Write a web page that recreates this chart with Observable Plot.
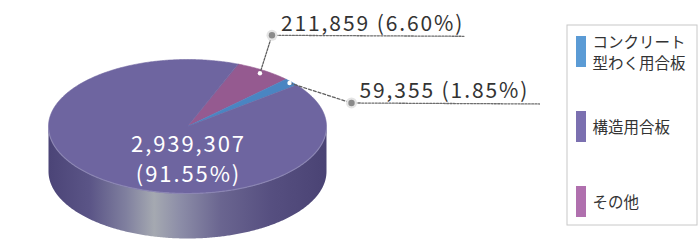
<!DOCTYPE html>
<html><head><meta charset="utf-8">
<script src="https://cdn.jsdelivr.net/npm/d3@7"></script>
<script src="https://cdn.jsdelivr.net/npm/@observablehq/plot@0.6"></script>
<style>body{margin:0;background:#fff;} #chart svg{display:block;}</style>
</head><body><div id="chart"></div>
<script>
// ---- data ----
const categories = ["その他", "コンクリート型わく用合板", "構造用合板"];
const values = [211859, 59355, 2939307];
const percents = [6.60, 1.85, 91.55];
const legendCategories = ["コンクリート型わく用合板", "構造用合板", "その他"];
const legendLabels = ["コンクリート\n型わく用合板", "構造用合板", "その他"];

// ---- styles / layout ----
const topColors = {"その他": "#955a90", "コンクリート型わく用合板": "#4a85c2", "構造用合板": "#6e65a0"};
const legendColors = {"その他": "#b070ae", "コンクリート型わく用合板": "#5b9bd5", "構造用合板": "#7b70b0"};
const W = 700, H = 250;
const cx = 187, cy = 126, rx = 139, ry = 67, depth = 45;
const startDeg = 21.4;
const FONT = "'Noto Sans CJK JP', 'Noto Sans', sans-serif";

const table = categories.map((c, i) => ({category: c, value: values[i], pct: percents[i]}));
const start = startDeg * Math.PI / 180;
const arcs = d3.pie().sort(null).value(d => d.value).startAngle(start).endAngle(start + 2 * Math.PI)(table);

const ell = (t, f = 1, dy = 0) => [cx + rx * f * Math.sin(t), cy - ry * f * Math.cos(t) + dy];
function arcPts(a0, a1, f = 1, dy = 0) {
  const n = Math.max(2, Math.ceil(Math.abs(a1 - a0) / 0.01));
  return d3.range(n + 1).map(i => ell(a0 + (a1 - a0) * i / n, f, dy));
}
const slicePolys = arcs.map(a => ({category: a.data.category, pts: [[cx, cy], ...arcPts(a.startAngle, a.endAngle)]}));
const sidePts = [...arcPts(Math.PI / 2, 3 * Math.PI / 2), ...arcPts(3 * Math.PI / 2, Math.PI / 2, 1, depth)];
const rimPts = arcPts(Math.PI / 2 + 0.05, 3 * Math.PI / 2 - 0.05);

// leader layout: offsets relative to anchor on slice
const leaderLayout = {
  "その他": {frac: 0.95, dx: 12, dy: -38, len: 192, tdx: 9, tdy: -4, dash: "2,1.4"},
  "コンクリート型わく用合板": {frac: 0.98, dx: 62, dy: 20, len: 188, tdx: 8, tdy: -5, dash: "3,2"}
};
const leaders = arcs.filter(a => leaderLayout[a.data.category]).map(a => {
  const L = leaderLayout[a.data.category];
  const mid = (a.startAngle + a.endAngle) / 2;
  const anchor = ell(mid, L.frac);
  const elbow = [anchor[0] + L.dx, anchor[1] + L.dy];
  const end = [elbow[0] + L.len, elbow[1] + 1];
  return {
    anchor, elbow, end, dash: L.dash,
    text: `${d3.format(",")(a.data.value)} (${a.data.pct.toFixed(2)}%)`,
    tx: elbow[0] + L.tdx, ty: elbow[1] + L.tdy
  };
});
const big = arcs.find(a => a.data.category === "構造用合板");

// legend layout
const lg = {x1: 567, x2: 697, y1: 25, y2: 225, sx: 576, sw: 10, sy0: 36, step: 75, sh: 31, tx: 592};
const legendRows = legendCategories.map((c, i) => ({
  category: c, label: legendLabels[i],
  y1: lg.sy0 + i * lg.step, y2: lg.sy0 + i * lg.step + lg.sh
}));

const marks = [
  Plot.line(sidePts, {x: d => d[0], y: d => d[1], fill: "url(#sideGrad)", stroke: "none", curve: "linear-closed"}),
  ...slicePolys.map(s => Plot.line(s.pts, {x: d => d[0], y: d => d[1], fill: topColors[s.category], stroke: topColors[s.category], strokeWidth: 0.6, curve: "linear-closed"})),
  Plot.line(rimPts, {x: d => d[0], y: d => d[1], stroke: "#8e8ab5", strokeWidth: 1.2, strokeOpacity: 0.8}),
  Plot.text([big], {x: cx + 1, y: cy + 31, text: d => `${d3.format(",")(d.data.value)}\n(${d.data.pct.toFixed(2)}%)`, fill: "white", fontSize: 22, lineHeight: 1.36, fontFamily: FONT, textAnchor: "middle"}),
  ...leaders.flatMap(l => [
    Plot.line([l.anchor, l.elbow], {x: d => d[0], y: d => d[1], stroke: "#5e5e5e", strokeWidth: 1.3, strokeDasharray: l.dash}),
    Plot.line([l.elbow, l.end], {x: d => d[0], y: d => d[1], stroke: "#6e6e6e", strokeWidth: 1.3, strokeDasharray: "2,1.4"}),
    Plot.dot([l.elbow], {x: d => d[0], y: d => d[1], r: 5.5, fill: "#e4e4e4"}),
    Plot.dot([l.elbow], {x: d => d[0], y: d => d[1], r: 3.2, fill: "#8a8a8a"}),
    Plot.dot([l.anchor], {x: d => d[0], y: d => d[1], r: 2.2, fill: "white"}),
    Plot.text([l], {x: "tx", y: "ty", text: "text", textAnchor: "start", lineAnchor: "bottom", fontSize: 21, fill: "#333", fontFamily: FONT})
  ]),
  Plot.rect([lg], {x1: "x1", x2: "x2", y1: "y1", y2: "y2", fill: "white", stroke: "#c8c8c8", strokeWidth: 1}),
  Plot.rect(legendRows, {x1: lg.sx, x2: lg.sx + lg.sw, y1: "y1", y2: "y2", fill: d => legendColors[d.category]}),
  Plot.text(legendRows, {x: lg.tx, y: d => (d.y1 + d.y2) / 2, text: "label", textAnchor: "start", lineAnchor: "middle", fontSize: 15.5, lineHeight: 1.3, fill: "#333", fontFamily: FONT})
];

const svg = Plot.plot({
  width: W, height: H, margin: 0,
  x: {domain: [0, W], range: [0, W], axis: null},
  y: {domain: [0, H], range: [0, H], axis: null},
  style: {background: "white", overflow: "visible"},
  marks
});
const defs = d3.select(svg).insert("defs", ":first-child");
const grad = defs.append("linearGradient").attr("id", "sideGrad").attr("gradientUnits", "userSpaceOnUse")
  .attr("x1", cx - rx).attr("x2", cx + rx).attr("y1", 0).attr("y2", 0);
[[0, "#4b4477"], [0.15, "#5b5587"], [0.28, "#80809f"], [0.38, "#a5a9b1"], [0.47, "#8d8ea8"], [0.62, "#6a6590"], [0.8, "#564f80"], [1, "#4a4374"]]
  .forEach(([o, c]) => grad.append("stop").attr("offset", o).attr("stop-color", c));
// wider numeric lettering like the reference
d3.select(svg).selectAll("text").filter(function () { return /\d/.test(this.textContent); })
  .attr("letter-spacing", "1.9px");
document.getElementById("chart").appendChild(svg);
</script>
</body></html>
